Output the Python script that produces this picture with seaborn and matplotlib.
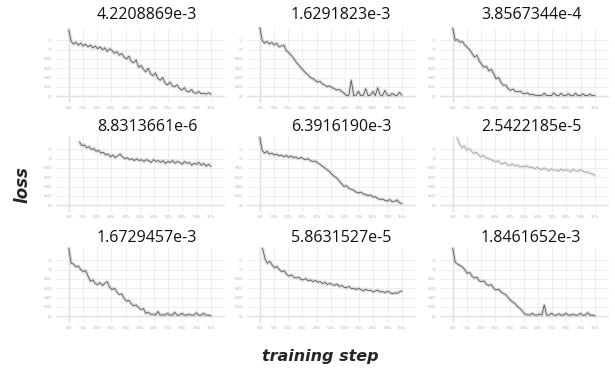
import numpy as np
import pandas as pd
import matplotlib
matplotlib.use("Agg")
import matplotlib.pyplot as plt
import seaborn as sns

titles = ["4.2208869e-3", "1.6291823e-3", "3.8567344e-4",
          "8.8313661e-6", "6.3916190e-3", "2.5422185e-5",
          "1.6729457e-3", "5.8631527e-5", "1.8461652e-3"]

# first training step shown for each panel
starts = [0, 0, 0, 750, 0, 300, 0, 200, 0]
last_step = 10000

loss_1 = [7.1, 5.9, 5.6, 5.8, 5.5, 5.7, 5.4, 5.6, 5.3, 5.5, 5.2, 5.4, 5.1, 5.3, 5.0,
          5.2, 4.8, 5.1, 4.9, 4.6, 4.8, 4.4, 4.6, 4.2, 4.0, 4.3, 3.7, 3.6, 3.9, 3.1,
          3.3, 2.9, 2.6, 3.0, 2.4, 2.2, 2.5, 1.9, 1.7, 2.0, 1.4, 1.2, 1.5, 1.1, 1.0,
          1.2, 0.8, 0.65, 0.9, 0.5, 0.45, 0.7, 0.35, 0.3, 0.5, 0.25, 0.3, 0.2, 0.35, 0.2]
loss_2 = [7.4, 6.0, 5.7, 5.9, 5.6, 5.8, 5.5, 5.7, 5.3, 5.4, 5.5, 4.9, 4.7, 4.4, 4.1,
          3.7, 3.4, 3.1, 2.8, 2.5, 2.3, 2.0, 1.9, 1.7, 1.5, 1.6, 1.3, 1.2, 1.0, 1.1,
          0.9, 0.8, 0.65, 0.7, 0.5, 0.3, 0.05, 0.08, 1.7, 0.05, 0.1, 0.5, 0.05, 0.08, 0.8,
          0.05, 0.1, 0.5, 0.05, 0.9, 0.1, 0.05, 0.6, 0.1, 0.05, 0.3, 0.1, 0.05, 0.4, 0.1]
loss_3 = [7.3, 6.0, 6.1, 5.8, 5.9, 5.5, 5.25, 5.0, 4.6, 4.2, 4.4, 3.8, 3.4, 3.1, 3.2,
          2.7, 2.9, 2.4, 1.85, 2.0, 1.5, 1.15, 1.2, 0.8, 0.6, 0.75, 0.5, 0.45, 0.55, 0.3,
          0.25, 0.35, 0.15, 0.2, 0.1, 0.08, 0.05, 0.06, 0.3, 0.05, 0.04, 0.05, 0.35, 0.05, 0.04,
          0.3, 0.05, 0.05, 0.25, 0.04, 0.05, 0.3, 0.05, 0.04, 0.25, 0.05, 0.05, 0.2, 0.04, 0.05]
loss_4 = [6.8, 6.4, 6.5, 6.2, 6.3, 6.0, 6.1, 5.8, 5.9, 5.6, 5.7, 5.4, 5.5, 5.2, 5.4,
          5.1, 5.3, 5.5, 5.2, 5.0, 5.1, 4.9, 5.0, 4.8, 5.0, 4.8, 4.9, 4.7, 4.9, 4.8,
          4.6, 4.9, 4.7, 4.8, 4.6, 4.8, 4.5, 4.7, 4.6, 4.8, 4.5, 4.7, 4.6, 4.4, 4.7,
          4.5, 4.6, 4.3, 4.5, 4.4, 4.6, 4.3, 4.5, 4.2, 4.4, 4.2]
loss_5 = [7.3, 5.9, 5.6, 5.8, 5.5, 5.6, 5.4, 5.5, 5.3, 5.4, 5.2, 5.35, 5.15, 5.3, 5.1,
          5.2, 5.0, 5.15, 5.0, 4.9, 5.0, 4.8, 4.7, 4.75, 4.55, 4.4, 4.2, 4.0, 3.8, 3.6,
          3.3, 3.1, 2.9, 2.6, 2.3, 2.0, 2.1, 1.8, 1.7, 1.6, 1.4, 1.3, 1.4, 1.2, 1.15,
          1.0, 1.1, 0.85, 0.9, 0.7, 0.6, 0.65, 0.5, 0.43, 0.6, 0.35, 0.4, 0.55, 0.25, 0.15]
loss_6 = [7.3, 6.6, 6.2, 6.4, 5.9, 6.1, 5.8, 5.55, 5.7, 5.4, 5.2, 5.35, 5.1, 5.0, 4.9,
          4.8, 4.65, 4.8, 4.5, 4.45, 4.6, 4.3, 4.3, 4.45, 4.2, 4.35, 4.1, 4.2, 4.1, 4.25,
          4.0, 4.1, 3.9, 4.05, 3.95, 3.8, 4.0, 3.85, 3.7, 3.9, 3.75, 3.8, 3.65, 3.9, 3.7,
          3.8, 3.75, 3.6, 3.85, 3.7, 3.65, 3.8, 3.7, 3.5, 3.6, 3.4, 3.35, 3.2]
loss_7 = [7.3, 5.7, 5.6, 5.3, 5.4, 5.0, 4.8, 4.9, 4.3, 3.75, 3.9, 3.5, 3.4, 3.6, 3.3,
          3.55, 3.7, 3.1, 2.85, 3.0, 2.6, 2.3, 2.4, 1.9, 1.6, 1.7, 1.3, 1.1, 1.2, 0.9,
          0.7, 0.8, 0.3, 0.4, 0.2, 0.2, 0.1, 0.5, 0.1, 0.15, 0.1, 0.3, 0.1, 0.1, 0.4,
          0.1, 0.1, 0.3, 0.1, 0.1, 0.2, 0.1, 0.1, 0.35, 0.1, 0.1, 0.3, 0.1, 0.1, 0.05]
loss_8 = [7.3, 6.2, 5.7, 5.9, 5.5, 5.2, 5.35, 5.0, 4.8, 4.9, 4.5, 4.3, 4.45, 4.2, 4.1,
          4.2, 3.95, 3.9, 4.05, 3.8, 3.9, 3.7, 3.85, 3.65, 3.7, 3.5, 3.65, 3.4, 3.55, 3.4,
          3.3, 3.45, 3.2, 3.3, 3.1, 3.05, 3.2, 2.95, 3.0, 2.85, 3.0, 2.85, 2.7, 2.9, 2.75,
          2.8, 2.6, 2.7, 2.8, 2.6, 2.65, 2.5, 2.7, 2.55, 2.4, 2.5, 2.45, 2.6, 2.7]
loss_9 = [7.3, 5.8, 5.6, 5.45, 5.3, 5.0, 4.6, 4.7, 4.3, 4.1, 4.2, 3.8, 3.7, 3.8, 3.4,
          3.3, 3.4, 3.0, 2.8, 2.9, 2.6, 2.45, 2.3, 2.0, 1.7, 1.5, 1.3, 1.0, 0.8, 0.5,
          0.2, 0.15, 0.1, 0.3, 0.1, 0.1, 0.2, 0.1, 1.2, 0.1, 0.1, 0.3, 0.1, 0.1, 0.25,
          0.1, 0.1, 0.3, 0.1, 0.1, 0.2, 0.1, 0.1, 0.3, 0.1, 0.1, 0.35, 0.1, 0.1, 0.05]
series = [loss_1, loss_2, loss_3, loss_4, loss_5, loss_6, loss_7, loss_8, loss_9]

x_ticks = [0, 1000, 2000, 3000, 4000, 5000, 6000, 7000, 8000, 9000, 10000]
x_tick_labels = ["0.00", "1.00k", "2.00k", "3.00k", "4.00k", "5.00k",
                 "6.00k", "7.00k", "8.00k", "9.00k", "10.0k"]
y_ticks = [0, 1, 2, 3, 4, 5, 6]
y_tick_labels = ["0.0", "0.200", "0.400", "0.600", "0.800", "1.0", "1.2"]

sns.set_theme(style="white")
plt.rcParams['font.family'] = ['Open Sans', 'DejaVu Sans']

W, H = 615, 370
fig = plt.figure(figsize=(W / 100, H / 100), dpi=100)
fig.patch.set_facecolor("white")

col_left = [56, 247, 440]
row_top = [27, 136, 247]
ax_w, ax_h = 169, 76
title_x = [147, 341, 531]
title_y = [15, 127, 238]
line_colors = ["#505050"] * 9
line_colors[5] = "#a0a0a0"
band_colors = ["#b8b8b8"] * 9
band_colors[5] = "#d8d8d8"

for k in range(9):
    r, c = divmod(k, 3)
    ax = fig.add_axes([col_left[c] / W, 1 - (row_top[r] + ax_h) / H, ax_w / W, ax_h / H])
    vals = series[k]
    steps = np.linspace(starts[k], last_step, len(vals))
    df = pd.DataFrame({"step": steps, "loss": vals})
    sns.lineplot(data=df, x="step", y="loss", ax=ax, color=band_colors[k], lw=2.6, alpha=0.45)
    sns.lineplot(data=df, x="step", y="loss", ax=ax, color=line_colors[k], lw=0.55)
    ax.set_xlim(-900, 11000)
    ax.set_ylim(-0.75, 7.45)
    ax.set_xticks(x_ticks)
    ax.set_xticklabels(x_tick_labels)
    ax.set_yticks(y_ticks)
    ax.set_yticklabels(y_tick_labels)
    ax.grid(True, color="#e8e8e8", lw=0.5)
    ax.axhline(0, color="#d2d2d2", lw=1.0, zorder=0.5)
    ax.axvline(0, color="#d2d2d2", lw=1.0, zorder=0.5)
    for s in ax.spines.values():
        s.set_visible(False)
    ax.tick_params(labelsize=2.3, colors="#aaaaaa", length=1.5, width=0.3, pad=1)
    ax.set_xlabel("")
    ax.set_ylabel("")
    fig.text(title_x[c] / W, 1 - title_y[r] / H, titles[k], ha="center", va="center",
             fontsize=11.5, color="#111111")

fig.text(22 / W, 1 - 185 / H, "loss", rotation=90, ha="center", va="center",
         fontsize=12, fontweight="bold", fontstyle="italic", family=["DejaVu Sans"])
fig.text(320 / W, 1 - 356 / H, "training step", ha="center", va="center",
         fontsize=11.5, fontweight="bold", fontstyle="italic", family=["DejaVu Sans"])

fig.savefig("out.png", dpi=100, facecolor="white")
